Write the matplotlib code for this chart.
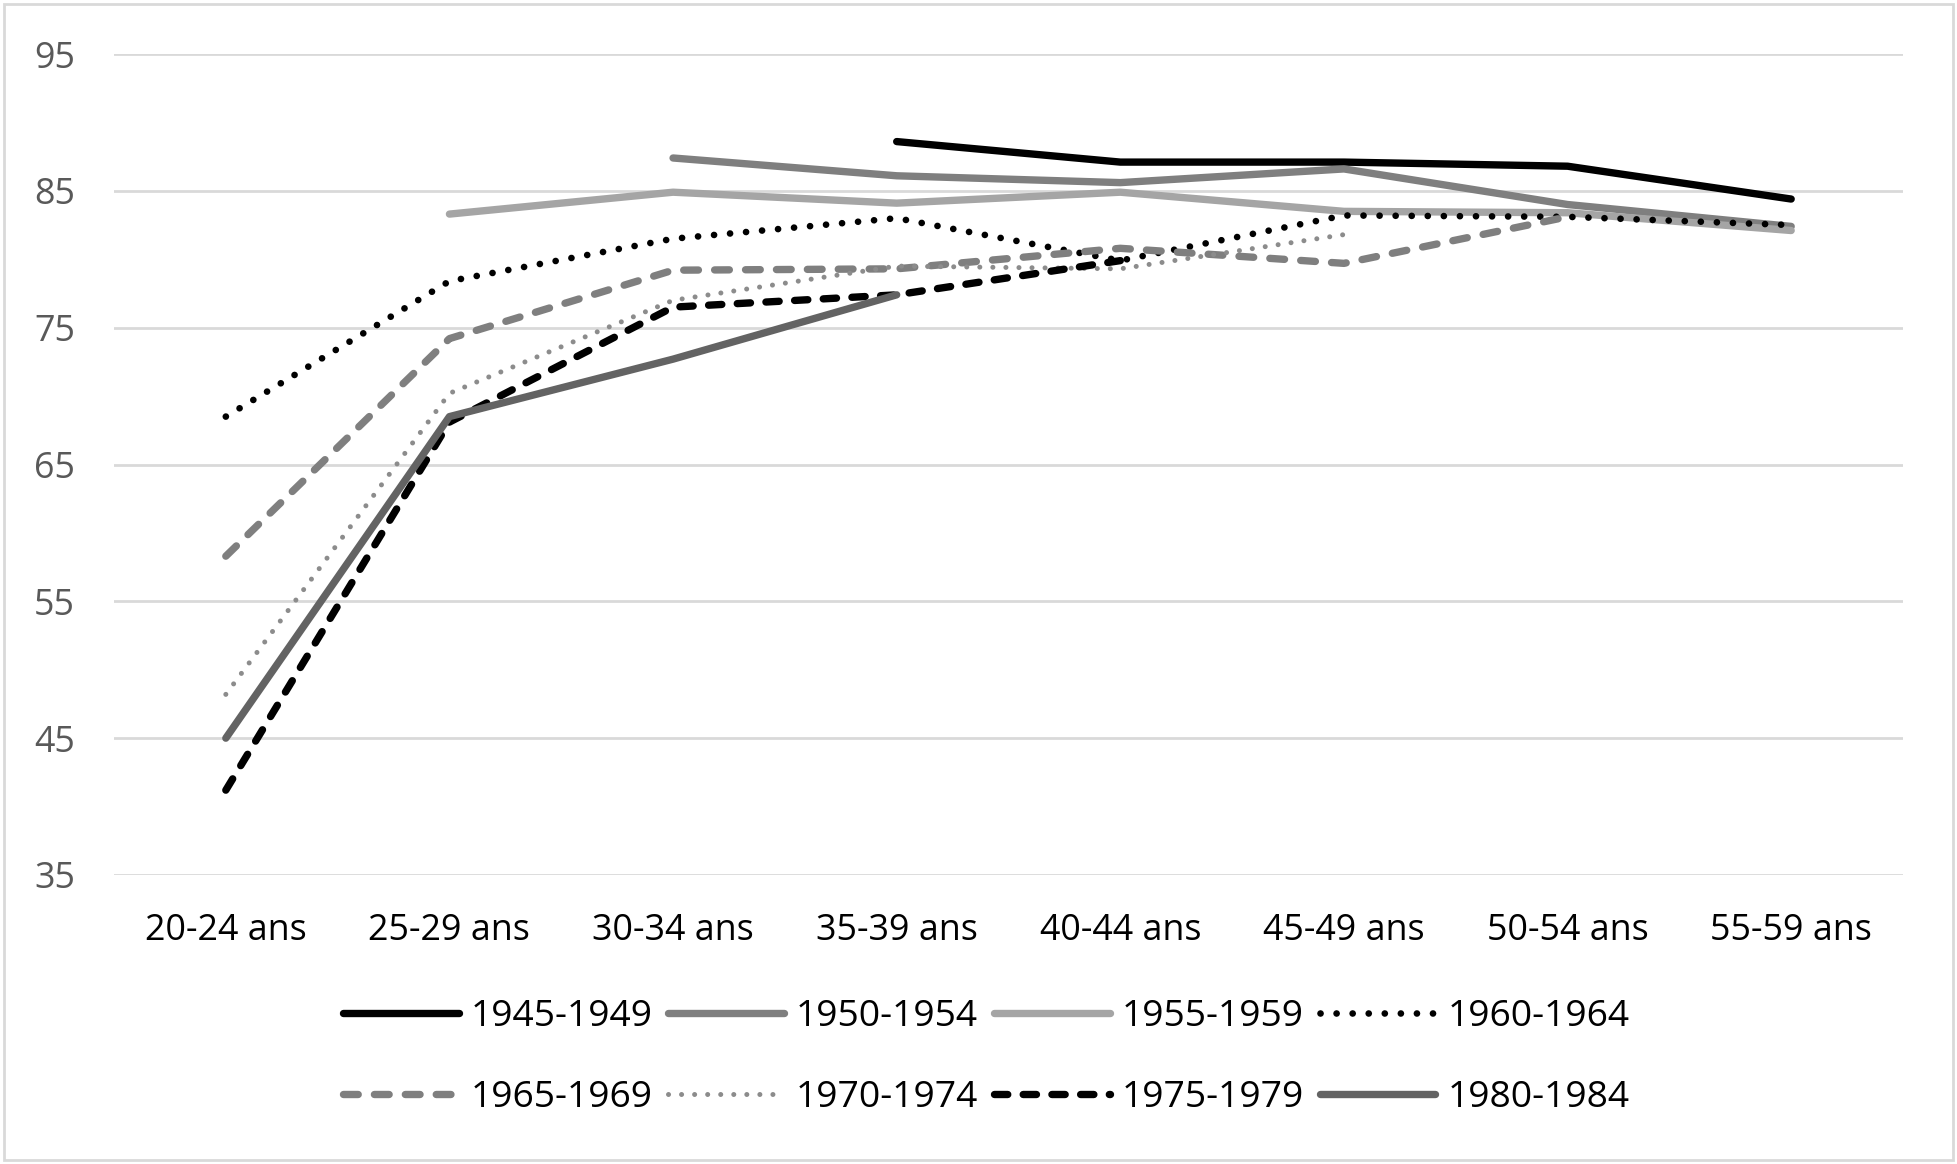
import numpy as np
import matplotlib
matplotlib.use("Agg")
import matplotlib.pyplot as plt
from matplotlib.patches import Rectangle

plt.rcParams['font.family'] = ['Open Sans', 'DejaVu Sans']

categories = ["20-24 ans", "25-29 ans", "30-34 ans", "35-39 ans",
              "40-44 ans", "45-49 ans", "50-54 ans", "55-59 ans"]
nan = np.nan
s1945 = [nan, nan, nan, 88.6, 87.1, 87.1, 86.8, 84.4]
s1950 = [nan, nan, 87.4, 86.1, 85.6, 86.6, 84.0, 82.4]
s1955 = [nan, 83.3, 84.9, 84.1, 84.9, 83.5, 83.4, 82.1]
s1960 = [68.5, 78.4, 81.5, 83.0, 79.9, 83.2, 83.1, 82.5]
s1965 = [58.3, 74.2, 79.2, 79.3, 80.8, 79.7, 83.1, nan]
s1970 = [48.2, 70.2, 77.0, 79.5, 79.3, 81.8, nan, nan]
s1975 = [41.2, 68.1, 76.5, 77.4, 79.9, nan, nan, nan]
s1980 = [45.0, 68.5, 72.7, 77.4, nan, nan, nan, nan]
labels = ["1945-1949", "1950-1954", "1955-1959", "1960-1964",
          "1965-1969", "1970-1974", "1975-1979", "1980-1984"]
yticks = [35, 45, 55, 65, 75, 85, 95]

W, H, DPI = 1957, 1164, 100
fig = plt.figure(figsize=(W / DPI, H / DPI), dpi=DPI)
ax = fig.add_axes([114 / W, 1 - 875 / H, (1903 - 114) / W, (875 - 54) / H])

series = [s1945, s1950, s1955, s1960, s1965, s1970, s1975, s1980]
styles = [
    dict(color="#000000", lw=5.3, ls="-"),
    dict(color="#7f7f7f", lw=5.3, ls="-"),
    dict(color="#a5a5a5", lw=5.3, ls="-"),
    dict(color="#000000", lw=4.8, ls=(0, (0.01, 2.4))),
    dict(color="#7f7f7f", lw=5.3, ls=(0, (2.0, 2.2))),
    dict(color="#8c8c8c", lw=3.6, ls=(0, (0.01, 2.6))),
    dict(color="#000000", lw=5.3, ls=(0, (1.8, 2.1))),
    dict(color="#636363", lw=5.3, ls="-"),
]
x = np.arange(len(categories))
handles = []
for s, st, lab in zip(series, styles, labels):
    h, = ax.plot(x, s, color=st["color"], lw=st["lw"], linestyle=st["ls"],
                 solid_capstyle="round", dash_capstyle="round",
                 solid_joinstyle="round", label=lab)
    handles.append(h)

ax.set_xlim(-0.5, len(categories) - 0.5)
ax.set_ylim(35, 95)
ax.set_yticks(yticks)
ax.set_yticklabels([str(v) for v in yticks])
ax.set_xticks(x)
ax.set_xticklabels(categories)
ax.yaxis.grid(True, color="#d9d9d9", lw=2.0)
ax.set_axisbelow(True)
for sp in ax.spines.values():
    sp.set_visible(False)
ax.tick_params(axis="y", length=0, pad=28, labelsize=25.8, labelcolor="#595959")
ax.tick_params(axis="x", length=0, pad=27, labelsize=25.8, labelcolor="#000000")

# legend filled row by row (matplotlib fills column-wise)
order = [0, 4, 1, 5, 2, 6, 3, 7]
leg = fig.legend([handles[i] for i in order], [labels[i] for i in order],
                 loc="center", bbox_to_anchor=(0.504, 0.0915), ncol=4,
                 frameon=False, fontsize=26.8, handlelength=3.1,
                 handletextpad=0.33, columnspacing=0.42, labelspacing=1.2)

fig.patches.append(Rectangle((4 / W, 4 / H), 1 - 8 / W, 1 - 8 / H,
                             transform=fig.transFigure, fill=False,
                             edgecolor="#d9d9d9", lw=2.0))

fig.savefig("out.png", dpi=DPI)
